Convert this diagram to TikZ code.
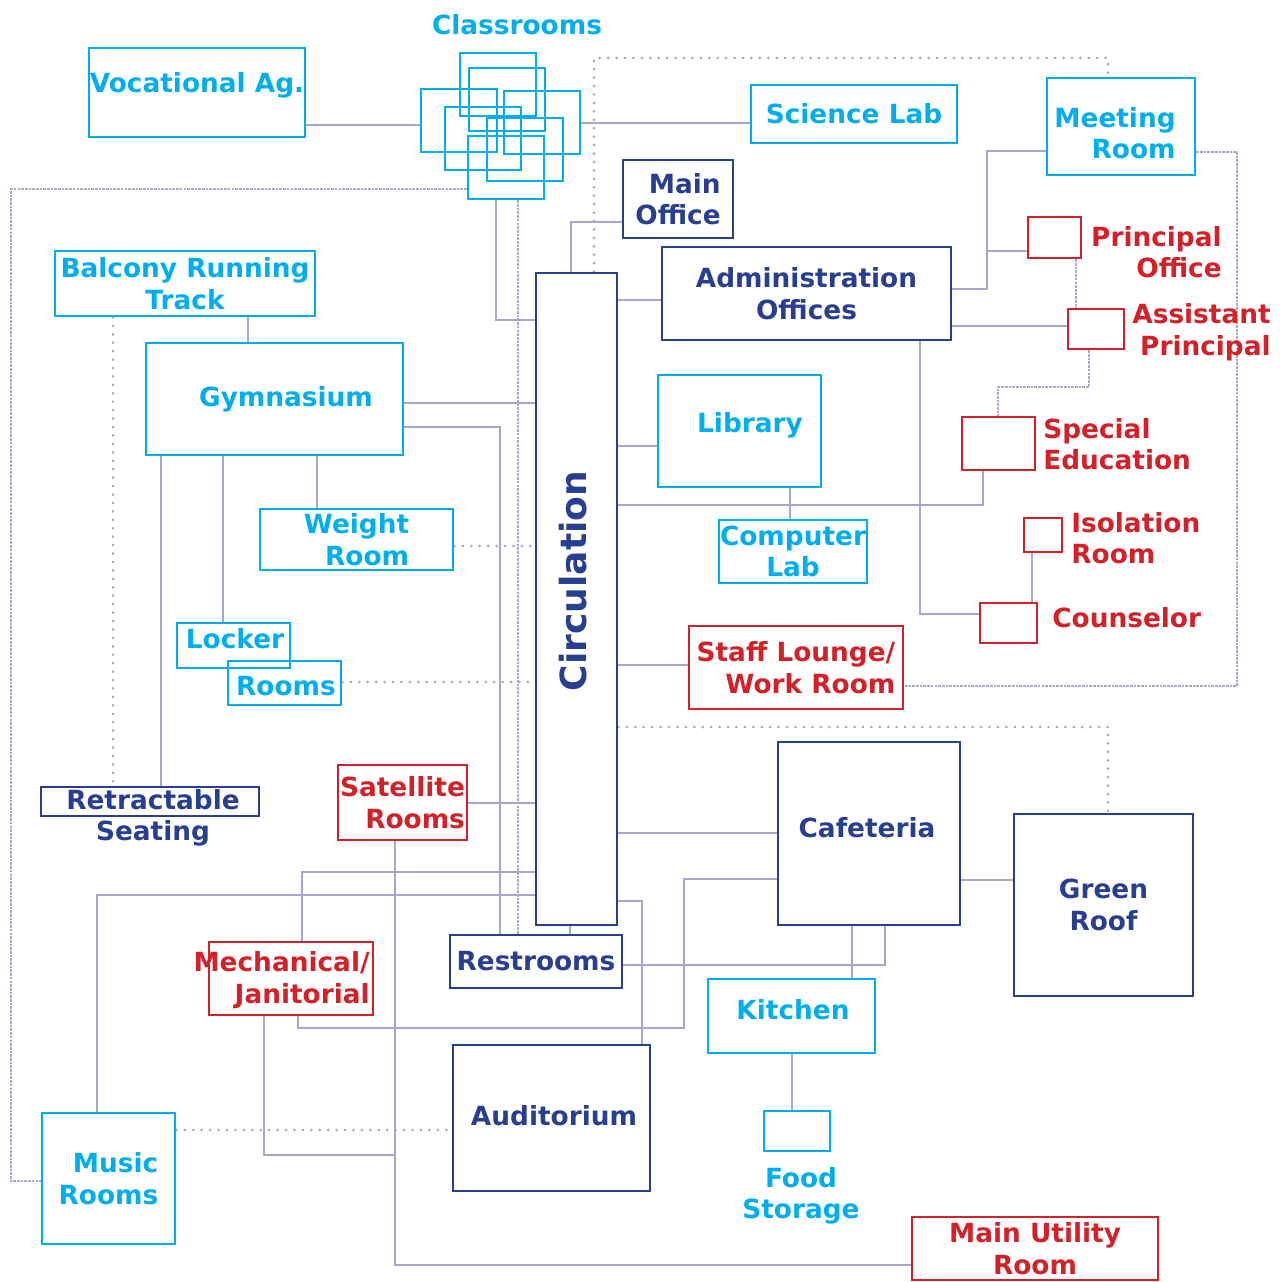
\documentclass[tikz,border=0pt]{standalone}
\usepackage{fontspec}
\setmainfont{DejaVu Sans}
\usetikzlibrary{backgrounds}
\definecolor{plancyan}{RGB}{0,174,239}
\definecolor{plannavy}{RGB}{40,62,145}
\definecolor{planred}{RGB}{212,32,40}
\definecolor{planlink}{RGB}{166,166,206}

\tikzset{
  roomat/.style n args={4}{at={({((#1)+(#3))/2},{((#2)+(#4))/2})},
                           minimum width={((#3)-(#1))*0.02cm},
                           minimum height={((#4)-(#2))*0.02cm}},
  room/.style={draw, line width=1.6pt, inner sep=0pt, align=center,
               font=\fontsize{15}{18}\selectfont\bfseries},
  cyanroom/.style={room, draw=plancyan, text=plancyan},
  navyroom/.style={room, draw=plannavy, text=plannavy},
  redroom/.style={room, draw=planred, text=planred},
  tag/.style={inner sep=0pt, font=\fontsize{15}{18}\selectfont\bfseries},
  link/.style={draw=planlink, line width=1.6pt},
  dotlink/.style={draw=planlink, line width=1.7pt, line cap=round,
                  dash pattern=on 0pt off 4.8pt},
  finelink/.style={draw=planlink, line width=1.4pt,
                   dash pattern=on 1.5pt off 0.6pt}
}

\begin{document}
\begin{tikzpicture}[x=0.02cm, y=-0.02cm]
  \useasboundingbox (0,0) rectangle (1279,1282);

  % classroom wing
  \node[tag, text=plancyan] (clstag) at (517,25) {Classrooms};
  \foreach \n/\xa/\ya in {1/460/53, 2/469/68, 3/421/89, 4/504/91,
                          5/445/107, 6/487/118, 7/468/136}
    \node[cyanroom, roomat={\xa}{\ya}{\xa+76}{\ya+63}] (cls\n) {};

  \node[cyanroom, roomat={89}{48}{305}{137}] (vocag) {};
  \node[tag, text=plancyan] (vocagtag) at (197,85) {Vocational Ag.};
  \node[cyanroom, roomat={751}{85}{957}{143}] (scilab) {Science Lab};
  \node[cyanroom, align=right, roomat={1047}{78}{1195}{175}] (meeting) {};
  \node[tag, text=plancyan, align=right, anchor=east] (meetingtag) at (1176,133) {Meeting\\Room};

  % offices
  \node[navyroom, align=right, roomat={623}{160}{733}{238}] (mainoff) {Main\\Office};
  \node[navyroom, roomat={662}{247}{951}{340}] (admin) {Administration\\Offices};
  \node[redroom, roomat={1028}{217}{1081}{258}] (principal) {};
  \node[redroom, roomat={1068}{309}{1124}{349}] (asst) {};
  \node[redroom, roomat={962}{417}{1035}{470}] (sped) {};
  \node[redroom, roomat={1024}{518}{1062}{552}] (isol) {};
  \node[redroom, roomat={980}{603}{1037}{643}] (couns) {};
  \node[tag, text=planred, align=right, anchor=east] (principaltag) at (1222,252) {Principal\\Office};
  \node[tag, text=planred, align=right, anchor=east] (assttag) at (1271,332) {Assistant\\Principal};
  \node[tag, text=planred, align=left, anchor=west] (spedtag) at (1043,444) {Special\\Education};
  \node[tag, text=planred, align=left, anchor=west] (isoltag) at (1071,538) {Isolation\\Room};
  \node[tag, text=planred, anchor=west] (counstag) at (1052,618) {Counselor};

  % athletics
  \node[cyanroom, roomat={55}{251}{315}{316}] (balcony) {Balcony Running\\Track};
  \node[cyanroom, roomat={146}{343}{403}{455}] (gym) {};
  \node[tag, text=plancyan] (gymtag) at (286,399) {Gymnasium};
  \node[cyanroom, align=right, roomat={260}{509}{453}{570}] (weight) {Weight\\Room};
  \node[cyanroom, roomat={177}{623}{290}{668}] (locker) {};
  \node[tag, text=plancyan] (lockertag) at (235,639) {Locker};
  \node[cyanroom, roomat={228}{661}{341}{705}] (lockrooms) {};
  \node[tag, text=plancyan] (lockroomstag) at (286,686) {Rooms};
  \node[navyroom, roomat={41}{787}{259}{816}] (retract) {};
  \node[tag, text=plannavy, align=center] (retracttag) at (153,818) {Retractable\\Seating};
  \node[redroom, align=right, roomat={338}{765}{467}{840}] (sat) {Satellite\\Rooms};

  % spine
  \node[navyroom, roomat={536}{273}{617}{925}] (circ) {};
  \node[tag, text=plannavy, font=\fontsize{20.5}{24}\selectfont\bfseries, rotate=90]
    (circtag) at (573,581) {Circulation};

  % library and support
  \node[cyanroom, roomat={658}{375}{821}{487}] (library) {};
  \node[tag, text=plancyan] (librarytag) at (750,425) {Library};
  \node[cyanroom, roomat={719}{520}{867}{583}] (complab) {Computer\\Lab};
  \node[redroom, align=right, roomat={689}{626}{903}{709}] (staff) {Staff Lounge/\\Work Room};
  \node[navyroom, roomat={778}{742}{960}{925}] (cafe) {};
  \node[tag, text=plannavy] (cafetag) at (867,828) {Cafeteria};
  \node[navyroom, roomat={1014}{814}{1193}{996}] (green) {Green\\Roof};
  \node[navyroom, roomat={450}{935}{622}{988}] (rest) {Restrooms};
  \node[redroom, roomat={209}{942}{373}{1015}] (mech) {};
  \node[tag, text=planred, align=right, anchor=east] (mechtag) at (370,980) {Mechanical/\\Janitorial};
  \node[cyanroom, roomat={708}{979}{875}{1053}] (kitchen) {};
  \node[tag, text=plancyan] (kitchentag) at (793,1010) {Kitchen};
  \node[cyanroom, roomat={764}{1111}{830}{1151}] (food) {};
  \node[tag, text=plancyan, align=center] (foodtag) at (801,1196) {Food\\Storage};
  \node[navyroom, roomat={453}{1045}{650}{1191}] (audit) {};
  \node[tag, text=plannavy] (audittag) at (554,1116) {Auditorium};
  \node[cyanroom, align=right, roomat={42}{1113}{175}{1244}] (music) {Music\\Rooms};
  \node[redroom, roomat={912}{1217}{1158}{1280}] (utility) {Main Utility\\Room};

  \begin{scope}[on background layer]
    % classrooms
    \draw[link] (vocag.east |- 0,125) -- (cls3.west |- 0,125);
    \draw[link] (cls4.east |- 0,123) -- (scilab.west |- 0,123);
    \draw[dotlink] (circ.north -| 594,0) -- (594,58) -| (meeting.north -| 1108,0);
    \draw[finelink] (cls7.west |- 0,189) -| (11,1181) -- (music.west |- 0,1181);
    \draw[link] (cls7.south -| 496,0) |- (circ.west |- 0,320);
    \draw[finelink] (cls7.south -| 518,0) -- (rest.north -| 518,0);
    % offices
    \draw[link] (mainoff.west |- 0,222) -| (circ.north -| 571,0);
    \draw[link] (admin.west |- 0,300) -- (circ.east |- 0,300);
    \draw[link] (admin.east |- 0,289) -| (987,151) -- (meeting.west |- 0,151);
    \draw[link] (987,251) -- (principal.west |- 0,251);
    \draw[link] (admin.east |- 0,326) -- (asst.west |- 0,326);
    \draw[finelink] (principal.south -| 1076,0) -- (asst.north -| 1076,0);
    \draw[finelink] (asst.south -| 1089,0) |- (998,387) -- (sped.north -| 998,0);
    \draw[finelink] (meeting.east |- 0,152) -| (1237,686) -- (staff.east |- 0,686);
    \draw[link] (admin.south -| 920,0) |- (couns.west |- 0,614);
    \draw[link] (isol.south -| 1032,0) -- (couns.north -| 1032,0);
    % east side of the spine
    \draw[link] (library.west |- 0,446) -- (circ.east |- 0,446);
    \draw[link] (circ.east |- 0,505) -| (sped.south -| 983,0);
    \draw[link] (library.south -| 790,0) -- (complab.north -| 790,0);
    \draw[link] (staff.west |- 0,665) -- (circ.east |- 0,665);
    \draw[dotlink] (circ.east |- 0,727) -| (green.north -| 1108,0);
    \draw[link] (circ.east |- 0,833) -- (cafe.west |- 0,833);
    \draw[link] (cafe.east |- 0,880) -- (green.west |- 0,880);
    \draw[link] (cafe.south -| 852,0) -- (kitchen.north -| 852,0);
    \draw[link] (cafe.south -| 885,0) |- (rest.east |- 0,965);
    \draw[link] (cafe.west |- 0,879) -| (684,1028) -| (mech.south -| 298,0);
    \draw[link] (circ.east |- 0,901) -| (audit.north -| 642,0);
    \draw[link] (rest.north -| 570,0) -- (circ.south -| 570,0);
    \draw[link] (kitchen.south -| 792,0) -- (food.north -| 792,0);
    % athletics
    \draw[link] (balcony.south -| 248,0) -- (gym.north -| 248,0);
    \draw[dotlink] (balcony.south -| 113,0) -- (retract.north -| 113,0);
    \draw[link] (gym.south -| 161,0) -- (retract.north -| 161,0);
    \draw[link] (gym.south -| 223,0) -- (locker.north -| 223,0);
    \draw[link] (gym.south -| 317,0) -- (weight.north -| 317,0);
    \draw[link] (gym.east |- 0,403) -- (circ.west |- 0,403);
    \draw[link] (gym.east |- 0,427) -| (rest.north -| 500,0);
    \draw[dotlink] (weight.east |- 0,546) -- (circ.west |- 0,546);
    \draw[dotlink] (lockrooms.east |- 0,682) -- (circ.west |- 0,682);
    % west side, lower floor
    \draw[link] (sat.east |- 0,803) -- (circ.west |- 0,803);
    \draw[link] (sat.south -| 395,0) |- (utility.west |- 0,1265);
    \draw[link] (circ.west |- 0,872) -| (mech.north -| 302,0);
    \draw[link] (circ.west |- 0,895) -| (music.north -| 97,0);
    \draw[link] (mech.south -| 264,0) |- (395,1155);
    \draw[dotlink] (music.east |- 0,1130) -- (audit.west |- 0,1130);
  \end{scope}
\end{tikzpicture}
\end{document}
